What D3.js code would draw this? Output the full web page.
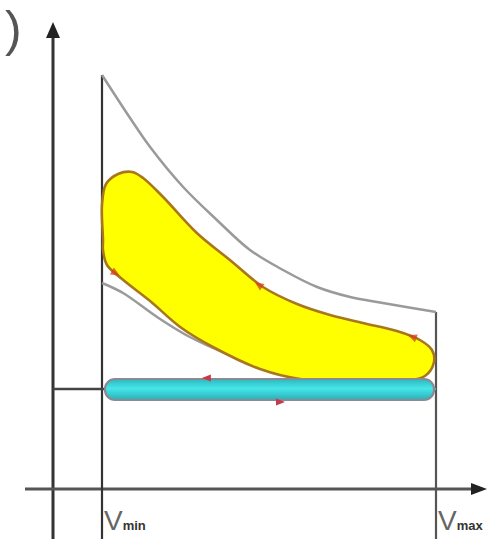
<!DOCTYPE html>
<html>
<head>
<meta charset="utf-8">
<script src="https://cdn.jsdelivr.net/npm/d3@7"></script>
<style>
  body { margin: 0; background: #fff; }
  svg { display: block; }
</style>
</head>
<body>
<div id="container"></div>
<script>
/* CONSTANTS AND GLOBALS */
const width = 492,
  height = 539;

/* DATA (v = volume, Vmin = 0, Vmax = 10; p = pressure) */
const vTicks = ["min", "max"];
const vLimits = [0, 10];
const pAtm = 25;

// ideal cycle, expansion and compression curves
const idealTop = [[0,103.5],[0.84,92.75],[1.44,85.5],[2.43,75.5],[3.44,67.25],[4.43,59.75],
  [5.42,54.75],[6.44,50.5],[7.43,48],[8.41,46.5],[10,44.25]];
const idealBottom = [[0,51.5],[0.63,49],[1.65,43],[2.63,38],[3.83,33.5],[5.33,29.25],
  [7.13,26.75],[10,25]];

// real cycle (work loop)
const realLoop = [[0.03,62.25],[0,71],[0.12,76.25],[0.48,78.75],[0.9,79.25],[1.23,77.75],
  [1.83,73],[2.84,64],[3.83,57.25],[4.82,50.5],[5.84,46.25],[6.83,43.5],[7.81,41.5],
  [8.83,39.5],[9.52,37.25],[9.88,34.75],[9.94,31.75],[9.67,28.25],[8.92,27],[7.43,27],
  [5.93,27.5],[4.73,30],[3.32,35.5],[2.34,40.5],[1.44,47],[0.6,52.5],[0.15,56],
  [0.03,59.75]];

// pumping loop
const pumpV = [0.09, 9.94];
const pumpP = [22.25, 27.5];

// direction marks [v, p, angle]
const pumpArrows = [[3.14, 27.75, 180], [5.33, 21.75, 0]];
const loopArrows = [[0.4, 54, 210], [4.7, 51, 35], [9.3, 38, 20]];

// SCALES
const xScale = d3.scaleLinear().domain([0, 10]).range([102, 436]);
const yScale = d3.scaleLinear().domain([0, 100]).range([489, 89]);

// CREATE SVG ELEMENT
const svg = d3.select("#container")
  .append("svg")
  .attr("width", width)
  .attr("height", height);

const defs = svg.append("defs");
const grad = defs.append("linearGradient")
  .attr("id", "cyan").attr("x1", 0).attr("y1", 0).attr("x2", 0).attr("y2", 1);
grad.append("stop").attr("offset", "0%").attr("stop-color", "#2bb8bc");
grad.append("stop").attr("offset", "45%").attr("stop-color", "#46e6ea");
grad.append("stop").attr("offset", "100%").attr("stop-color", "#29b0b6");

// AXES
svg.append("line")
  .attr("x1", 53).attr("x2", 53)
  .attr("y1", height).attr("y2", 36)
  .attr("stroke", "#333").attr("stroke-width", 3);
svg.append("path")
  .attr("d", "M53,22 L46,38 L60,38 Z")
  .attr("fill", "#222");

svg.append("line")
  .attr("x1", 25).attr("x2", 472)
  .attr("y1", yScale(0)).attr("y2", yScale(0))
  .attr("stroke", "#555").attr("stroke-width", 3);
svg.append("path")
  .attr("d", `M487,${yScale(0)} L471,${yScale(0) - 6} L471,${yScale(0) + 6} Z`)
  .attr("fill", "#222");

// partial axis label at top left
svg.append("text")
  .attr("x", 5).attr("y", 46)
  .attr("font-family", "Liberation Sans, sans-serif")
  .attr("font-size", 50)
  .attr("font-weight", 300)
  .attr("fill", "#555")
  .text(")");

// volume limits
svg.append("line")
  .attr("x1", xScale(vLimits[0])).attr("x2", xScale(vLimits[0]))
  .attr("y1", yScale(idealTop[0][1])).attr("y2", height)
  .attr("stroke", "#333").attr("stroke-width", 2.2);
svg.append("line")
  .attr("x1", xScale(vLimits[1])).attr("x2", xScale(vLimits[1]))
  .attr("y1", yScale(idealTop[idealTop.length - 1][1])).attr("y2", height)
  .attr("stroke", "#555").attr("stroke-width", 2.2);

// atmospheric pressure line
svg.append("line")
  .attr("x1", 53).attr("x2", xScale(pumpV[0]))
  .attr("y1", yScale(pAtm)).attr("y2", yScale(pAtm))
  .attr("stroke", "#444").attr("stroke-width", 2.5);

// LINE GENERATORS
const lineGen = d3.line()
  .x(d => xScale(d[0]))
  .y(d => yScale(d[1]))
  .curve(d3.curveCatmullRom);

const loopGen = d3.line()
  .x(d => xScale(d[0]))
  .y(d => yScale(d[1]))
  .curve(d3.curveCatmullRomClosed);

// ideal cycle
svg.selectAll(".ideal")
  .data([idealTop, idealBottom])
  .join("path")
  .attr("class", "ideal")
  .attr("fill", "none")
  .attr("stroke", "#9a9a9a")
  .attr("stroke-width", 2.5)
  .attr("d", d => lineGen(d));

// real loop
svg.append("path")
  .attr("d", loopGen(realLoop))
  .attr("fill", "#ffff00")
  .attr("stroke", "#a8761c")
  .attr("stroke-width", 2.6);

// pumping loop
svg.append("rect")
  .attr("x", xScale(pumpV[0]))
  .attr("y", yScale(pumpP[1]))
  .attr("width", xScale(pumpV[1]) - xScale(pumpV[0]))
  .attr("height", yScale(pumpP[0]) - yScale(pumpP[1]))
  .attr("rx", 10)
  .attr("fill", "url(#cyan)")
  .attr("stroke", "#8a8a96")
  .attr("stroke-width", 2.2);

// direction marks
svg.selectAll(".pump-arrow")
  .data(pumpArrows)
  .join("path")
  .attr("class", "pump-arrow")
  .attr("d", "M-5,0 L4,-3.5 L4,3.5 Z")
  .attr("fill", "#c83a4a")
  .attr("transform", d => `translate(${xScale(d[0])},${yScale(d[1])}) rotate(${d[2] + 180})`);

svg.selectAll(".loop-arrow")
  .data(loopArrows)
  .join("path")
  .attr("class", "loop-arrow")
  .attr("d", "M-5,0 L4,-4 L4,4 Z")
  .attr("fill", "#d4401e")
  .attr("opacity", 0.75)
  .attr("transform", d => `translate(${xScale(d[0])},${yScale(d[1])}) rotate(${d[2]})`);

// LABELS
const labels = svg.selectAll(".vlabel")
  .data(vTicks)
  .join("text")
  .attr("class", "vlabel")
  .attr("x", (d, i) => xScale(vLimits[i]) + 2)
  .attr("y", 530)
  .attr("font-family", "Liberation Sans, sans-serif")
  .attr("fill", "#666");
labels.append("tspan")
  .attr("font-size", 28)
  .text("V");
labels.append("tspan")
  .attr("font-size", 13)
  .attr("font-weight", "bold")
  .attr("fill", "#333")
  .text(d => d);
</script>
</body>
</html>
